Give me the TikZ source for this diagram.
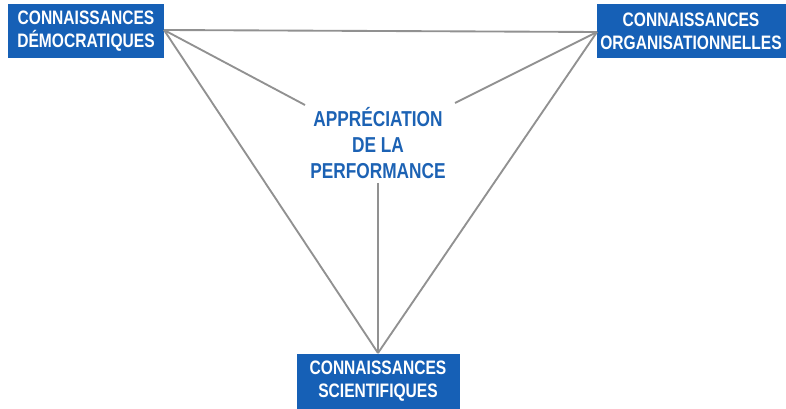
\documentclass[tikz,border=0pt]{standalone}
\usepackage{fontspec}
\setmainfont{Liberation Sans}[FakeStretch=0.8]
\definecolor{boxblue}{RGB}{22,96,182}
\definecolor{txtblue}{RGB}{28,98,180}
\definecolor{linegray}{RGB}{145,145,145}
\tikzset{
  kbox/.style={fill=boxblue, text=white, font=\bfseries\fontsize{14.6}{17.2}\selectfont, align=center, inner sep=0pt, anchor=center},
  ctext/.style={text=txtblue, font=\bfseries\fontsize{16.2}{19.5}\selectfont, align=center, inner sep=0pt},
  conn/.style={draw=linegray, line width=1.4pt}
}
\begin{document}
\begin{tikzpicture}[x=0.75pt,y=-0.75pt]
\useasboundingbox (0,0) rectangle (786,409);
% boxes
\fill[boxblue] (8,4) rectangle (164,58);
\fill[boxblue] (597,4) rectangle (786,58);
\fill[boxblue] (297,354) rectangle (460,409);
\node[kbox, fill=none] (dem) at (86,31) {CONNAISSANCES\\DÉMOCRATIQUES};
\node[kbox, fill=none] (org) at (691,31) {CONNAISSANCES\\ORGANISATIONNELLES};
\node[kbox, fill=none] (sci) at (378,381) {CONNAISSANCES\\SCIENTIFIQUES};
\node[ctext] (app) at (378,143) {APPRÉCIATION\\DE LA\\PERFORMANCE};
% junction points
\coordinate (L) at (164,30);
\coordinate (R) at (597,32);
\coordinate (B) at (378,353);
\coordinate (cl) at (305,105);
\coordinate (cr) at (455,103);
\coordinate (cb) at (378,183);
\draw[conn] (L) -- (R);
\draw[conn] (L) -- (B);
\draw[conn] (R) -- (B);
\draw[conn] (L) -- (cl);
\draw[conn] (R) -- (cr);
\draw[conn] (cb) -- (B);
\end{tikzpicture}
\end{document}
